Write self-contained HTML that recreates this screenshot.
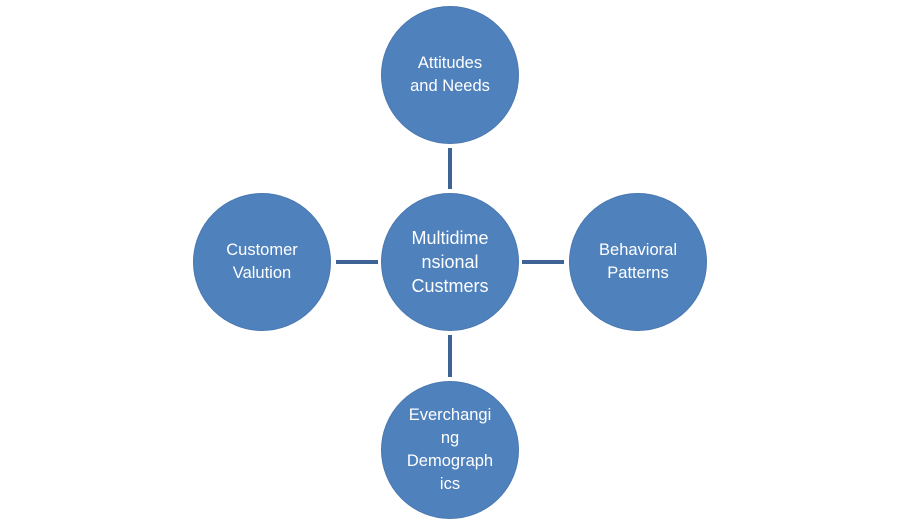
<!DOCTYPE html>
<html><head><meta charset="utf-8"><style>
body{margin:0;width:900px;height:525px;background:#fff;overflow:hidden;position:relative;font-family:"Liberation Sans",sans-serif}
.c{position:absolute;width:138px;height:138px;border-radius:50%;background:#4f81bd;border:1px solid #4a78b0;color:#fff;display:flex;align-items:center;justify-content:center;text-align:center;font-size:16.5px;line-height:23px;box-sizing:border-box}
.l{position:absolute;background:#3d6494}
</style></head><body>
<div class="l" style="left:448px;top:148px;width:4px;height:41px"></div>
<div class="l" style="left:448px;top:335px;width:4px;height:42px"></div>
<div class="l" style="left:336px;top:260px;width:42px;height:4px"></div>
<div class="l" style="left:522px;top:260px;width:42px;height:4px"></div>
<div class="c" style="left:381px;top:6px">Attitudes<br>and Needs</div>
<div class="c" style="left:381px;top:193px;font-size:18px;line-height:24px">Multidime<br>nsional<br>Custmers</div>
<div class="c" style="left:193px;top:193px">Customer<br>Valution</div>
<div class="c" style="left:569px;top:193px">Behavioral<br>Patterns</div>
<div class="c" style="left:381px;top:381px">Everchangi<br>ng<br>Demograph<br>ics</div>
</body></html>
